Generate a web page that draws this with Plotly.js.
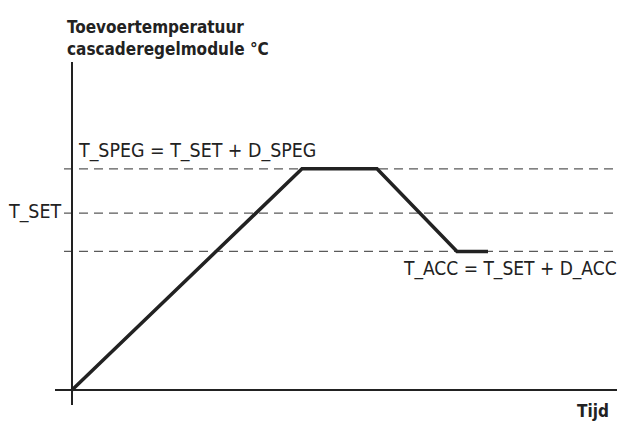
<!DOCTYPE html>
<html>
<head>
<meta charset="utf-8">
<script src="https://cdn.plot.ly/plotly-3.0.1.min.js"></script>
<style>body{margin:0;background:#fff}</style>
</head>
<body>
<div id="chart" style="width:622px;height:421px"></div>
<script>
// time (arbitrary units) and flow temperature (arbitrary units)
var tijd = [0, 23, 30.5, 38.5, 41.6];
var temp = [0, 75, 75, 47, 47];

var levelNames = ["T_SPEG", "T_SET", "T_ACC"];
var levelValues = [75, 60, 47];

var font = "'DejaVu Sans Condensed', 'Liberation Sans Narrow', Arial, sans-serif";

var shapes = levelValues.map(function (v) {
  return {type: "line", xref: "x", yref: "y", x0: -0.8, x1: 54.5, y0: v, y1: v,
          line: {color: "#5a5a5a", width: 1.2, dash: "9px,6px"}, layer: "below"};
});

var data = [{
  x: tijd, y: temp, type: "scatter", mode: "lines",
  line: {color: "#222", width: 3.5}, hoverinfo: "skip"
}];

var layout = {
  width: 622, height: 421,
  margin: {l: 55, r: 5, t: 62, b: 16},
  paper_bgcolor: "#fff", plot_bgcolor: "#fff",
  showlegend: false,
  xaxis: {range: [-1.7, 54.5], showgrid: false, showticklabels: false, ticks: "",
          zeroline: true, zerolinecolor: "#222", zerolinewidth: 1.5, showline: false},
  yaxis: {range: [-5.08, 111.2], showgrid: false, showticklabels: false, ticks: "",
          zeroline: true, zerolinecolor: "#222", zerolinewidth: 1.5, showline: false},
  shapes: shapes,
  annotations: [
    {text: "<b>Toevoertemperatuur<br>cascaderegelmodule °C</b>", xref: "paper", yref: "paper",
     x: 0.0185, y: 1, xanchor: "left", yanchor: "bottom", align: "left", showarrow: false,
     yshift: 1, font: {family: font, size: 17, color: "#222"}},
    {text: levelNames[0] + " = " + levelNames[1] + " + D_SPEG", xref: "x", yref: "y",
     x: 0.35, y: levelValues[0], xanchor: "left", yanchor: "bottom", showarrow: false,
     yshift: 5, font: {family: font, size: 19.4, color: "#222"}},
    {text: levelNames[1], xref: "paper", yref: "y", x: 0.0142, y: levelValues[1],
     xanchor: "right", yanchor: "middle", showarrow: false, yshift: 2,
     font: {family: font, size: 19.4, color: "#222"}},
    {text: levelNames[2] + " = " + levelNames[1] + " + D_ACC", xref: "paper", yref: "y",
     x: 1.004, y: levelValues[2], xanchor: "right", yanchor: "top", showarrow: false,
     yshift: -4, font: {family: font, size: 19, color: "#222"}},
    {text: "<b>Tijd</b>", xref: "paper", yref: "paper", x: 0.99, y: 0,
     xanchor: "right", yanchor: "middle", showarrow: false, yshift: -6,
     font: {family: font, size: 17, color: "#222"}}
  ]
};

Plotly.newPlot("chart", data, layout, {displayModeBar: false, staticPlot: true});
</script>
</body>
</html>
